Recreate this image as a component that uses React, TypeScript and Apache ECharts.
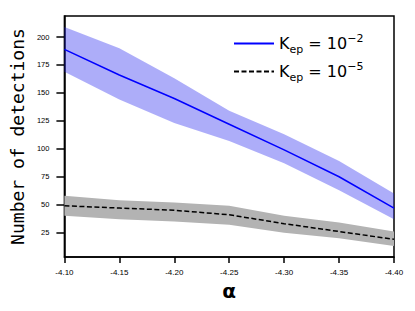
import React, { useEffect, useRef } from "react";
import * as echarts from "echarts";

const alphaLabels = ["-4.10", "-4.15", "-4.20", "-4.25", "-4.30", "-4.35", "-4.40"];
const blueMean = [189, 166, 145, 122, 99, 75, 47];
const blueUpper = [209, 190, 163, 134, 113, 89, 60];
const blueLower = [169, 144, 123, 107, 87, 63, 37];
const grayMean = [49, 47, 45, 41, 33, 26, 19];
const grayUpper = [58, 54, 52, 49, 40, 34, 26];
const grayLower = [40, 37, 35, 32, 25, 20, 13];
const yTicks = [25, 50, 75, 100, 125, 150, 175, 200];
const seriesNames = ["Kep2", "Kep5"];

const legendRich = {
  k: { fontFamily: "DejaVu Sans", fontSize: 16, color: "#000" },
  s: { fontFamily: "DejaVu Sans", fontSize: 11, color: "#000", padding: [12, 0, 0, 0] },
  p: { fontFamily: "DejaVu Sans", fontSize: 11, color: "#000", padding: [0, 0, 10, 0] },
};

export default function App() {
  const ref = useRef<HTMLDivElement>(null);
  useEffect(() => {
    if (!ref.current) return;
    const chart = echarts.init(ref.current, null, { renderer: "svg" });
    const diff = (u: number[], l: number[]) => u.map((v, i) => v - l[i]);
    chart.setOption({
      animation: false,
      grid: {
        left: 59,
        right: 21,
        top: 16,
        bottom: 54,
        show: true,
        borderColor: "#000",
        borderWidth: 1.5,
      },
      legend: {
        data: seriesNames,
        orient: "vertical",
        left: 228,
        top: 28,
        itemWidth: 40,
        itemHeight: 10,
        itemGap: 6,
        itemStyle: { opacity: 0 },
        formatter: (name: string) =>
          name === "Kep2"
            ? "{k|K}{s|ep}{k| = 10}{p|−2}"
            : "{k|K}{s|ep}{k| = 10}{p|−5}",
        textStyle: { rich: legendRich, fontFamily: "DejaVu Sans", fontSize: 16 },
      },
      xAxis: {
        type: "category",
        data: alphaLabels,
        boundaryGap: false,
        name: "α",
        nameLocation: "middle",
        nameGap: 24,
        nameTextStyle: { fontSize: 20, fontWeight: "bold", color: "#000", fontFamily: "DejaVu Sans" },
        axisLine: { lineStyle: { color: "#000", width: 1.5 } },
        axisTick: { length: 6, lineStyle: { color: "#000", width: 1.5 } },
        axisLabel: { fontSize: 8, color: "#000", fontFamily: "Liberation Sans", margin: 11, interval: 0 },
        splitLine: { show: false },
      },
      yAxis: {
        type: "value",
        min: 3.2,
        max: 218.8,
        name: "Number of detections",
        nameLocation: "middle",
        nameGap: 30,
        nameTextStyle: { fontSize: 18, color: "#000", fontFamily: "DejaVu Sans Mono" },
        axisLine: { show: true, lineStyle: { color: "#000", width: 1.5 } },
        axisTick: { show: true, length: 8, customValues: yTicks, lineStyle: { color: "#000", width: 1.5 } },
        axisLabel: { fontSize: 7.5, color: "#000", fontFamily: "Liberation Sans", margin: 15, customValues: yTicks },
        splitLine: { show: false },
      },
      series: [
        {
          type: "line",
          stack: "blue",
          data: blueLower,
          symbol: "none",
          silent: true,
          lineStyle: { opacity: 0 },
        },
        {
          type: "line",
          stack: "blue",
          data: diff(blueUpper, blueLower),
          symbol: "none",
          silent: true,
          lineStyle: { opacity: 0 },
          areaStyle: { color: "rgba(40,40,240,0.38)", opacity: 1 },
        },
        {
          type: "line",
          stack: "gray",
          data: grayLower,
          symbol: "none",
          silent: true,
          lineStyle: { opacity: 0 },
        },
        {
          type: "line",
          stack: "gray",
          data: diff(grayUpper, grayLower),
          symbol: "none",
          silent: true,
          lineStyle: { opacity: 0 },
          areaStyle: { color: "#b3b3b3", opacity: 1 },
        },
        {
          name: "Kep2",
          type: "line",
          data: blueMean,
          symbol: "none",
          color: "#0000ff",
          lineStyle: { color: "#0000ff", width: 1.5 },
        },
        {
          name: "Kep5",
          type: "line",
          data: grayMean,
          symbol: "none",
          color: "#000",
          lineStyle: { color: "#000", width: 1.5, type: [5, 2.5] },
        },
      ],
    });
    return () => chart.dispose();
  }, []);
  return <div ref={ref} style={{ width: 415, height: 311, margin: -8 }} />;
}
